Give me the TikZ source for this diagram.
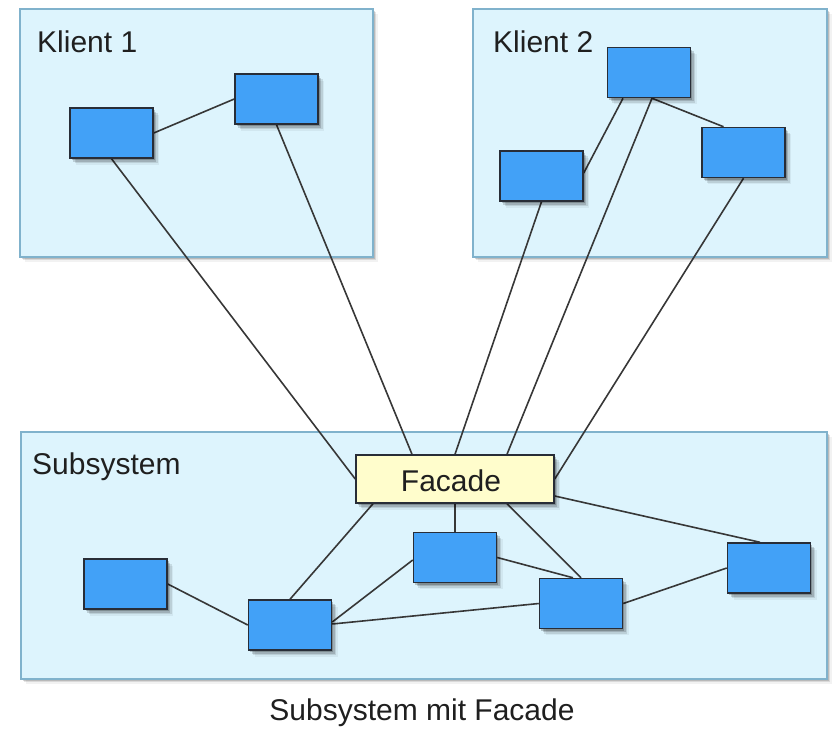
\documentclass[tikz,border=0pt]{standalone}
\usepackage{fontspec}
\setmainfont{Liberation Sans}
\usetikzlibrary{shadows}
\definecolor{panelfill}{RGB}{221,244,253}
\definecolor{paneledge}{RGB}{128,178,204}
\definecolor{boxblue}{RGB}{66,161,247}
\definecolor{boxedge}{RGB}{40,45,55}
\definecolor{facadefill}{RGB}{255,253,204}
\definecolor{linkgray}{RGB}{55,55,55}
\pgfdeclarelayer{back}
\pgfdeclarelayer{mid}
\pgfsetlayers{back,mid,main}
\tikzset{
  softshadow/.style={
    drop shadow={shadow xshift=1.5pt, shadow yshift=-2pt, fill=black, opacity=0.2},
    drop shadow={shadow xshift=3pt, shadow yshift=-3.5pt, fill=black, opacity=0.15},
    drop shadow={shadow xshift=4.5pt, shadow yshift=-5pt, fill=black, opacity=0.1},
    drop shadow={shadow xshift=6pt, shadow yshift=-6.5pt, fill=black, opacity=0.05}},
  panelshadow/.style={
    drop shadow={shadow xshift=1.5pt, shadow yshift=-1.5pt, fill=black, opacity=0.15},
    drop shadow={shadow xshift=3pt, shadow yshift=-3pt, fill=black, opacity=0.1},
    drop shadow={shadow xshift=4.5pt, shadow yshift=-4.5pt, fill=black, opacity=0.05}},
  panel/.style={draw=paneledge, line width=1.6pt, fill=panelfill, inner sep=0pt, panelshadow},
  unit/.style={draw=boxedge, line width=1.5pt, fill=boxblue, minimum width=83pt,
    minimum height=50pt, inner sep=0pt, softshadow},
  facadebox/.style={draw=boxedge, line width=1.5pt, fill=facadefill, minimum width=198pt,
    minimum height=48pt, inner sep=0pt, softshadow},
  lbl/.style={font=\fontsize{30}{36}\selectfont, text=black!88, inner sep=0pt, anchor=base west},
  link/.style={draw=linkgray, line width=1.6pt}
}
\begin{document}
\begin{tikzpicture}[x=1pt, y=-1pt]
\useasboundingbox (0,0) rectangle (838,732);

% client and subsystem panels
\begin{pgfonlayer}{back}
  \node[panel, minimum width=353pt, minimum height=248pt] (k1) at (196.5,133) {};
  \node[panel, minimum width=354pt, minimum height=248pt] (k2) at (650,133) {};
  \node[panel, minimum width=806pt, minimum height=247pt] (sub) at (424,555.5) {};
\end{pgfonlayer}

\node[lbl] (k1lbl) at (37,52) {Klient 1};
\node[lbl] (k2lbl) at (493,52) {Klient 2};
\node[lbl] (sublbl) at (32,474) {Subsystem};

% client 1 units
\node[unit] (a) at (111.5,133) {};
\node[unit] (b) at (276.5,99) {};
% client 2 units
\node[unit] (c) at (649,72.5) {};
\node[unit] (d) at (541.5,176) {};
\node[unit] (e) at (743.5,152.5) {};
% subsystem units
\node[facadebox] (fac) at (455,479) {};
\node[lbl, anchor=base] (factxt) at (451,491) {Facade};
\node[unit] (f) at (125.5,584) {};
\node[unit] (g) at (290,625) {};
\node[unit] (h) at (455,557.5) {};
\node[unit] (i) at (581,603.5) {};
\node[unit] (j) at (769,568) {};

\node[lbl, anchor=base] (caption) at (422,720) {Subsystem mit Facade};

% connections
\begin{pgfonlayer}{mid}
  \draw[link] (a.east) -- (b.west);
  \draw[link] (a.south) -- (fac.west);
  \draw[link] (b.south) -- ([xshift=-43pt]fac.north);
  \draw[link] ([xshift=-26pt]c.south) -- ([yshift=3pt]d.east);
  \draw[link] ([xshift=3pt]c.south) -- ([xshift=-20pt]e.north);
  \draw[link] ([xshift=3pt]c.south) -- ([xshift=52pt]fac.north);
  \draw[link] (d.south) -- (fac.north);
  \draw[link] (e.south) -- (fac.east);
  \draw[link] ([yshift=-17pt]fac.east) -- ([xshift=-9pt]j.north);
  \draw[link] (fac.south) -- (h.north);
  \draw[link] ([xshift=-82pt]fac.south) -- (g.north);
  \draw[link] ([xshift=52pt]fac.south) -- (i.north);
  \draw[link] (h.east) -- ([xshift=-8pt]i.north);
  \draw[link] ([yshift=3pt]g.east) -- ([yshift=-2.5pt]h.west);
  \draw[link] ([yshift=1pt]g.east) -- (i.west);
  \draw[link] (f.east) -- (g.west);
  \draw[link] (i.east) -- (j.west);
\end{pgfonlayer}
\end{tikzpicture}
\end{document}
